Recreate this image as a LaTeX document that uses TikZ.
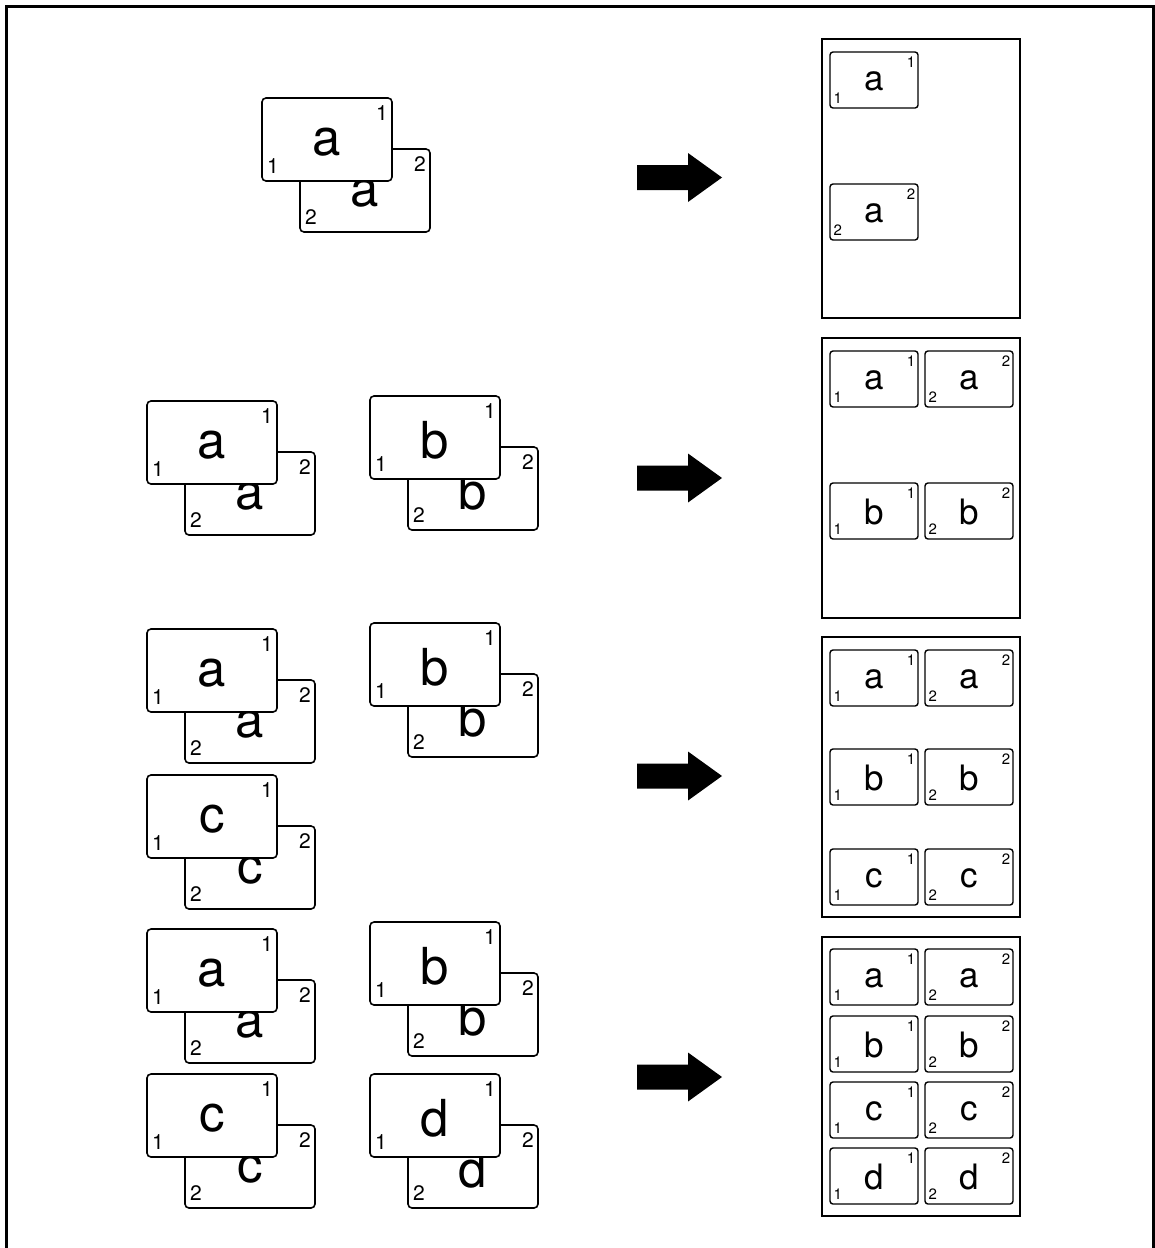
\documentclass[tikz,border=0pt]{standalone}
\usepackage{fontspec}
\setmainfont{TeX Gyre Heros}

\tikzset{
  sheet/.style={draw=black, fill=white, line width=1.6pt, rounded corners=4pt},
  minisheet/.style={draw=black, fill=white, line width=1.4pt, rounded corners=3pt},
  outpage/.style={draw=black, line width=1.4pt},
  bigltr/.style={inner sep=0pt, font=\fontsize{51}{51}\selectfont},
  bignum/.style={inner sep=0pt, font=\fontsize{21}{21}\selectfont},
  miniltr/.style={inner sep=0pt, font=\fontsize{35}{35}\selectfont},
  mininum/.style={inner sep=0pt, font=\fontsize{15}{15}\selectfont},
  bigarrow/.style={fill=black}
}

% one original sheet: x, y (top left), letter, side, name
\newcommand{\origsheet}[5]{%
  \draw[sheet] (#1,#2) rectangle ++(130,83);
  \node[bigltr] (#5) at (#1+65,#2+44) {#3};
  \node[bignum, anchor=north] (#5-tr) at (#1+120,#2+7) {#4};
  \node[bignum, anchor=base west] (#5-bl) at (#1+5,#2+75) {#4};
}
% two-sided original: back sheet first, front sheet over it
\newcommand{\origpair}[4]{%
  \origsheet{#1+38}{#2+51}{#3}{2}{#4-back}
  \origsheet{#1}{#2}{#3}{1}{#4-front}
}
% reduced sheet on the copy: x, y (top left), letter, side, name
\newcommand{\copysheet}[5]{%
  \draw[minisheet] (#1,#2) rectangle ++(88,56);
  \node[miniltr] (#5) at (#1+44.5,#2+29) {#3};
  \node[mininum, anchor=north] (#5-tr) at (#1+81,#2+4.5) {#4};
  \node[mininum, anchor=base west] (#5-bl) at (#1+3.5,#2+51) {#4};
}
% block arrow centred on y
\newcommand{\blockarrow}[1]{%
  \fill[bigarrow] (637,#1-12.5) -- (688,#1-12.5) -- (688,#1-24.5) -- (722,#1)
    -- (688,#1+24.5) -- (688,#1+12.5) -- (637,#1+12.5) -- cycle;
}

\begin{document}
\begin{tikzpicture}[x=1pt, y=-1pt]
  \useasboundingbox (0,0) rectangle (1155,1248);

  % Outer frame, open at the bottom
  \draw[line width=3pt] (6,1248) -- (6,6) -- (1153.5,6) -- (1153.5,1248);

  % Originals
  \origpair{262}{98}{a}{r1a}

  \origpair{147}{401}{a}{r2a}
  \origpair{370}{396}{b}{r2b}

  \origpair{147}{629}{a}{r3a}
  \origpair{370}{623}{b}{r3b}
  \origpair{147}{775}{c}{r3c}

  \origpair{147}{929}{a}{r4a}
  \origpair{370}{922}{b}{r4b}
  \origpair{147}{1074}{c}{r4c}
  \origpair{370}{1074}{d}{r4d}

  % Arrows
  \foreach \y in {177.5,478,776,1077}{
    \blockarrow{\y}
  }

  % Copies
  \draw[outpage] (822,39) rectangle (1020,318);
  \copysheet{830}{52}{a}{1}{p1-a-1}
  \copysheet{830}{184}{a}{2}{p1-a-2}

  \draw[outpage] (822,338) rectangle (1020,618);
  \foreach \l/\y in {a/351, b/483}{
    \copysheet{830}{\y}{\l}{1}{p2-\l-1}
    \copysheet{925}{\y}{\l}{2}{p2-\l-2}
  }

  \draw[outpage] (822,637) rectangle (1020,917);
  \foreach \l/\y in {a/650, b/749, c/849}{
    \copysheet{830}{\y}{\l}{1}{p3-\l-1}
    \copysheet{925}{\y}{\l}{2}{p3-\l-2}
  }

  \draw[outpage] (822,937) rectangle (1020,1216);
  \foreach \l/\y in {a/949, b/1016, c/1082, d/1148}{
    \copysheet{830}{\y}{\l}{1}{p4-\l-1}
    \copysheet{925}{\y}{\l}{2}{p4-\l-2}
  }
\end{tikzpicture}
\end{document}
